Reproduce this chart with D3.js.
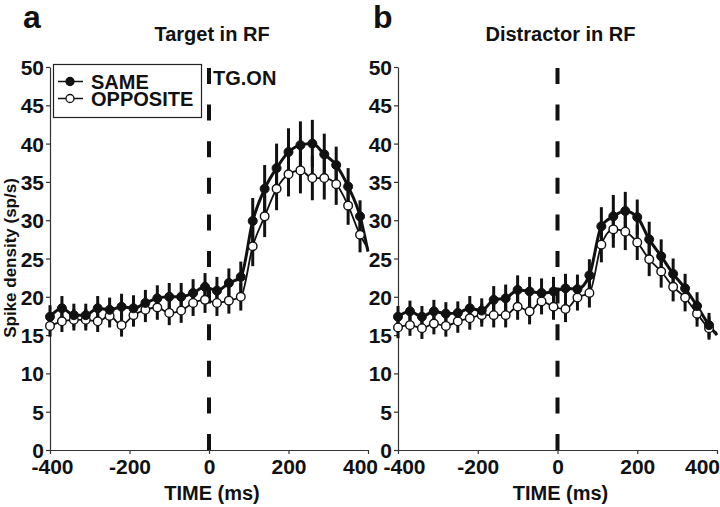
<!DOCTYPE html>
<html>
<head>
<meta charset="utf-8">
<script src="https://cdn.jsdelivr.net/npm/d3@7"></script>
<style>
  html, body { margin: 0; padding: 0; background: #fff; }
  svg { display: block; }
  text { font-family: "Liberation Sans", Arial, sans-serif; font-weight: bold; fill: #111; }
</style>
</head>
<body>
<svg id="chart" width="720" height="507"></svg>
<script>
// ---- data ----
const times = [-400,-370,-340,-310,-280,-250,-220,-190,-160,-130,-100,-70,-40,-10,20,50,80,110,140,170,200,230,260,290,320,350,380];
const endTime = 400;

const aSame = [17.4,18.5,17.6,17.6,18.5,18.3,18.7,18.5,19.2,19.8,20.0,20.0,20.5,21.3,20.8,21.8,22.6,29.9,34.1,36.8,38.9,39.8,40.0,38.6,37.2,34.4,30.5];
const aOpp  = [16.2,16.8,17.0,17.0,16.8,17.5,16.3,17.6,18.3,18.6,17.9,18.2,19.2,19.6,19.2,19.5,20.0,26.6,30.5,34.1,36.0,36.5,35.5,35.5,34.7,31.9,28.1];
const aSameSem = [1.5,1.6,1.5,1.5,1.6,1.6,1.7,1.7,1.7,1.7,1.8,1.8,1.8,1.8,1.8,1.9,2.0,3.0,3.1,3.2,3.1,3.1,3.1,2.7,2.4,2.4,2.1];
const aOppSem  = [1.4,1.4,1.4,1.4,1.4,1.5,1.5,1.5,1.6,1.6,1.6,1.6,1.7,1.7,1.7,1.7,1.8,2.6,2.7,2.8,2.9,3.0,2.9,2.8,2.7,2.5,2.3];
const aSameEnd = 25.9, aOppEnd = 26.3;

const bSame = [17.4,18.1,17.4,18.1,17.8,17.9,18.5,18.2,19.6,19.8,20.9,20.7,20.5,20.7,21.1,21.0,22.8,29.2,30.5,31.2,30.4,27.5,25.3,23.0,21.1,18.8,16.3];
const bOpp  = [16.0,16.3,15.9,16.5,16.2,16.8,17.2,17.6,17.6,17.6,18.7,18.1,19.4,18.7,18.4,19.9,20.5,26.8,28.8,28.5,27.1,24.9,23.3,21.3,19.9,17.8,15.9];
const bSameSem = [1.4,1.4,1.4,1.5,1.5,1.5,1.6,1.6,1.8,1.8,1.9,1.9,1.9,1.9,1.9,1.9,2.1,2.5,2.8,2.5,2.3,2.3,2.2,2.0,1.9,1.8,1.6];
const bOppSem  = [1.4,1.4,1.4,1.4,1.4,1.5,1.5,1.5,1.6,1.6,1.7,1.7,1.7,1.7,1.7,1.7,1.9,2.3,2.4,2.4,2.3,2.2,2.1,1.9,1.8,1.7,1.5];
const bSameEnd = 15.0, bOppEnd = 15.3;

const xTicks = [-400,-200,0,200,400];
const yTicks = [0,5,10,15,20,25,30,35,40,45,50];
const seriesNames = ["SAME","OPPOSITE"];

// ---- drawing ----
const svg = d3.select("#chart");
const narrow = "'Liberation Sans Narrow', 'Liberation Sans', Arial, sans-serif";

const panels = [
  {letter:"a", title:"Target in RF", x0:50, x1:368, same:aSame, opp:aOpp, sSem:aSameSem, oSem:aOppSem, sEnd:aSameEnd, oEnd:aOppEnd, legend:true, edgeShift:{"-400":2, "400":-8}},
  {letter:"b", title:"Distractor in RF", x0:398, x1:717, same:bSame, opp:bOpp, sSem:bSameSem, oSem:bOppSem, sEnd:bSameEnd, oEnd:bOppEnd, legend:false, edgeShift:{"-400":6, "400":-15}}
];

const y = d3.scaleLinear().domain([0,50]).range([450,67]);

panels.forEach(p => {
  const x = d3.scaleLinear().domain([-400,400]).range([p.x0,p.x1]);
  const g = svg.append("g");

  // axes
  const ya = g.append("g").attr("transform", `translate(${p.x0},0)`)
    .call(d3.axisLeft(y).tickValues(yTicks).tickSize(4).tickSizeOuter(0).tickPadding(2).tickFormat(d => String(d)));
  const xa = g.append("g").attr("transform", `translate(0,450)`)
    .call(d3.axisBottom(x).tickValues(xTicks).tickSize(4).tickSizeOuter(0).tickPadding(2).tickFormat(d => String(d)));
  [ya, xa].forEach(a => {
    a.selectAll("path.domain").attr("stroke", "#333").attr("stroke-width", 1.2);
    a.selectAll(".tick line").attr("stroke", "#333").attr("stroke-width", 1.2);
    a.selectAll(".tick text").style("font-size", "21px").style("font-family", narrow).style("font-weight", "bold").attr("fill", "#111");
  });
  ya.selectAll(".tick text").attr("dy", "0.36em");
  xa.selectAll(".tick text").attr("dy", "0.85em").attr("dx", d => p.edgeShift[String(d)] || 0);

  // titles
  g.append("text").attr("x", p.letter === "a" ? 23 : 373).attr("y", 28).style("font-size", "32px").text(p.letter);
  g.append("text").attr("x", (p.x0 + p.x1)/2 + 3).attr("y", 41).attr("text-anchor", "middle").style("font-size", "20px").text(p.title);
  g.append("text").attr("x", (p.x0 + p.x1)/2 + 3).attr("y", 500).attr("text-anchor", "middle")
    .style("font-size", "20px").style("font-family", narrow).text("TIME (ms)");

  // dashed line at 0
  g.append("line").attr("x1", x(0)).attr("x2", x(0)).attr("y1", y(0)).attr("y2", y(50) + 1)
    .attr("stroke", "#111").attr("stroke-width", 4).attr("stroke-dasharray", "16,20.6");

  const pts = (vals, sem) => times.map((t,i) => ({t, v: vals[i], s: sem[i]}));
  const sameP = pts(p.same, p.sSem), oppP = pts(p.opp, p.oSem);

  // error bars
  [sameP, oppP].forEach(arr => {
    g.append("g").selectAll("line").data(arr).join("line")
      .attr("x1", d => x(d.t)).attr("x2", d => x(d.t))
      .attr("y1", d => y(d.v - d.s)).attr("y2", d => y(d.v + d.s))
      .attr("stroke", "#111").attr("stroke-width", 3);
  });

  // lines
  const line = d3.line().x(d => x(d.t)).y(d => y(d.v)).curve(d3.curveMonotoneX);
  g.append("path").datum(oppP.concat([{t:endTime, v:p.oEnd}])).attr("d", line)
    .attr("fill", "none").attr("stroke", "#111").attr("stroke-width", 1.8);
  g.append("path").datum(sameP.concat([{t:endTime, v:p.sEnd}])).attr("d", line)
    .attr("fill", "none").attr("stroke", "#111").attr("stroke-width", 3);

  // markers
  g.append("g").selectAll("circle").data(oppP).join("circle")
    .attr("cx", d => x(d.t)).attr("cy", d => y(d.v)).attr("r", 4.3)
    .attr("fill", "#fff").attr("stroke", "#111").attr("stroke-width", 1.4);
  g.append("g").selectAll("circle").data(sameP).join("circle")
    .attr("cx", d => x(d.t)).attr("cy", d => y(d.v)).attr("r", 4.5)
    .attr("fill", "#111").attr("stroke", "#111").attr("stroke-width", 1);

  if (p.legend) {
    g.append("text").attr("x", 213).attr("y", 85).style("font-size", "20px").text("TG.ON");
    const lg = g.append("g");
    lg.append("rect").attr("x", 53.5).attr("y", 64.5).attr("width", 148).attr("height", 53)
      .attr("fill", "#fff").attr("stroke", "#222").attr("stroke-width", 1.2);
    seriesNames.forEach((name, i) => {
      const cy = 81.5 + i * 17;
      lg.append("line").attr("x1", 58).attr("x2", 83).attr("y1", cy).attr("y2", cy).attr("stroke", "#111").attr("stroke-width", 1.5);
      lg.append("circle").attr("cx", 70).attr("cy", cy).attr("r", 4)
        .attr("fill", i === 0 ? "#111" : "#fff").attr("stroke", "#111").attr("stroke-width", 1.3);
      lg.append("text").attr("x", 91).attr("y", cy + 7).style("font-size", "20px").text(name);
    });
  }
});

// y-axis label
svg.append("text").attr("transform", "translate(16,258) rotate(-90)").attr("text-anchor", "middle")
  .style("font-size", "17px").text("Spike density (sp/s)");
</script>
</body>
</html>
